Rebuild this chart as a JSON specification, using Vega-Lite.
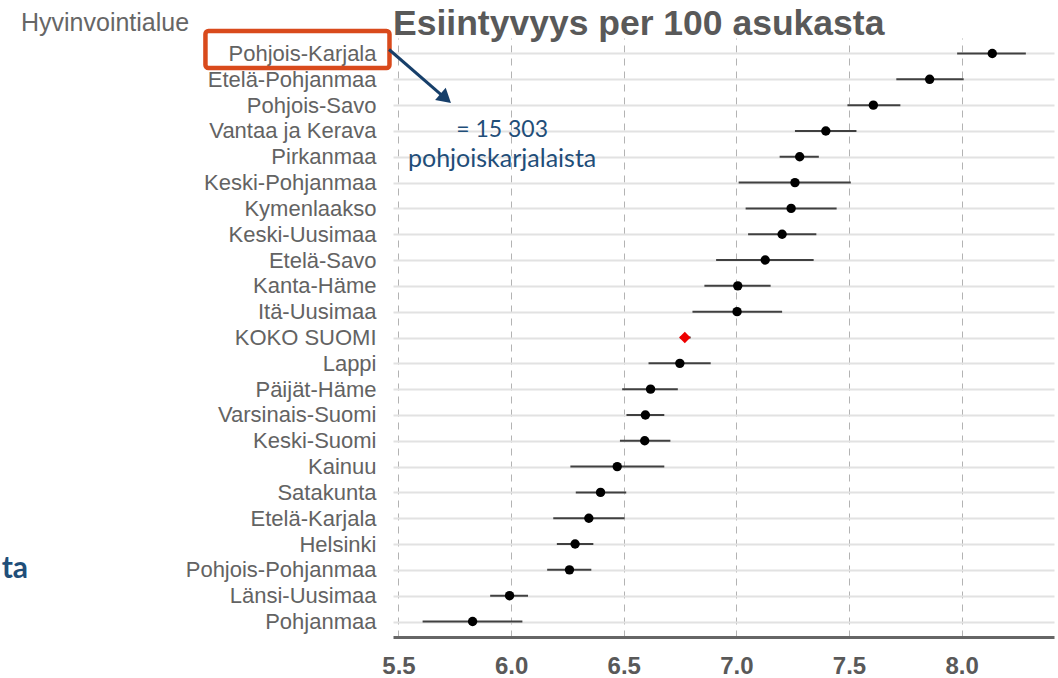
{
  "$schema": "https://vega.github.io/schema/vega-lite/v6.json",
  "width": 661,
  "height": 599,
  "autosize": {"type": "none"},
  "padding": {"left": 393, "top": 38, "right": 4, "bottom": 41},
  "background": "white",
  "config": {
    "view": {"stroke": null},
    "font": "Liberation Sans"
  },
  "title": {
    "text": "Esiintyvyys per 100 asukasta",
    "anchor": "start",
    "frame": "group",
    "font": "Liberation Sans",
    "fontSize": 35.5,
    "fontWeight": "bold",
    "color": "#595959",
    "offset": 4,
    "dy": 36
  },
  "datasets": {
    "main": [
      {"region": "Pohjois-Karjala", "est": 8.136, "lo": 7.98, "hi": 8.285, "type": "alue"},
      {"region": "Etelä-Pohjanmaa", "est": 7.858, "lo": 7.71, "hi": 8.009, "type": "alue"},
      {"region": "Pohjois-Savo", "est": 7.608, "lo": 7.493, "hi": 7.728, "type": "alue"},
      {"region": "Vantaa ja Kerava", "est": 7.397, "lo": 7.26, "hi": 7.533, "type": "alue"},
      {"region": "Pirkanmaa", "est": 7.281, "lo": 7.192, "hi": 7.366, "type": "alue"},
      {"region": "Keski-Pohjanmaa", "est": 7.26, "lo": 7.01, "hi": 7.508, "type": "alue"},
      {"region": "Kymenlaakso", "est": 7.243, "lo": 7.041, "hi": 7.445, "type": "alue"},
      {"region": "Keski-Uusimaa", "est": 7.203, "lo": 7.052, "hi": 7.355, "type": "alue"},
      {"region": "Etelä-Savo", "est": 7.128, "lo": 6.91, "hi": 7.343, "type": "alue"},
      {"region": "Kanta-Häme", "est": 7.006, "lo": 6.858, "hi": 7.152, "type": "alue"},
      {"region": "Itä-Uusimaa", "est": 7.003, "lo": 6.805, "hi": 7.203, "type": "alue"},
      {"region": "KOKO SUOMI", "est": 6.771, "lo": 6.749, "hi": 6.797, "type": "koko"},
      {"region": "Lappi", "est": 6.749, "lo": 6.61, "hi": 6.886, "type": "alue"},
      {"region": "Päijät-Häme", "est": 6.619, "lo": 6.493, "hi": 6.74, "type": "alue"},
      {"region": "Varsinais-Suomi", "est": 6.596, "lo": 6.512, "hi": 6.68, "type": "alue"},
      {"region": "Keski-Suomi", "est": 6.593, "lo": 6.483, "hi": 6.707, "type": "alue"},
      {"region": "Kainuu", "est": 6.471, "lo": 6.263, "hi": 6.68, "type": "alue"},
      {"region": "Satakunta", "est": 6.397, "lo": 6.287, "hi": 6.511, "type": "alue"},
      {"region": "Etelä-Karjala", "est": 6.345, "lo": 6.187, "hi": 6.504, "type": "alue"},
      {"region": "Helsinki", "est": 6.284, "lo": 6.203, "hi": 6.365, "type": "alue"},
      {"region": "Pohjois-Pohjanmaa", "est": 6.259, "lo": 6.16, "hi": 6.356, "type": "alue"},
      {"region": "Länsi-Uusimaa", "est": 5.993, "lo": 5.907, "hi": 6.075, "type": "alue"},
      {"region": "Pohjanmaa", "est": 5.829, "lo": 5.607, "hi": 6.05, "type": "alue"}
    ],
    "box": [{"x1": 4.643, "x2": 5.46, "region": "Pohjois-Karjala"}],
    "arrow": [{"x1": 5.458, "x2": 5.7095, "r1": "Pohjois-Karjala", "r2": "Pohjois-Savo"}],
    "head": [{"x": 5.7095, "region": "Pohjois-Savo"}],
    "note1": [{"x": 5.96, "region": "Vantaa ja Kerava", "label": "= 15 303"}],
    "note2": [{"x": 5.96, "region": "Pirkanmaa", "label": "pohjoiskarjalaista"}],
    "cut": [{"x": 3.8555, "region": "Pohjois-Pohjanmaa", "label": "ta"}]
  },
  "layer": [
    {
      "data": {"name": "main"},
      "mark": {"type": "rule", "color": "#404040", "strokeWidth": 2},
      "encoding": {
        "y": {
          "field": "region",
          "type": "nominal",
          "sort": null,
          "scale": {
            "type": "point",
            "padding": 0.6,
            "domain": ["Pohjois-Karjala", "Etelä-Pohjanmaa", "Pohjois-Savo", "Vantaa ja Kerava", "Pirkanmaa", "Keski-Pohjanmaa", "Kymenlaakso", "Keski-Uusimaa", "Etelä-Savo", "Kanta-Häme", "Itä-Uusimaa", "KOKO SUOMI", "Lappi", "Päijät-Häme", "Varsinais-Suomi", "Keski-Suomi", "Kainuu", "Satakunta", "Etelä-Karjala", "Helsinki", "Pohjois-Pohjanmaa", "Länsi-Uusimaa", "Pohjanmaa"]
          },
          "axis": {
            "title": "Hyvinvointialue",
            "titleAngle": 0,
            "titleAlign": "left",
            "titleBaseline": "middle",
            "titleX": -372.5,
            "titleY": -16,
            "titleFont": "Liberation Sans",
            "titleFontSize": 25,
            "titleFontWeight": "normal",
            "titleColor": "#666666",
            "labelFont": "Liberation Sans",
            "labelFontSize": 22,
            "labelColor": "#636363",
            "labelPadding": 17,
            "labelLimit": 400,
            "ticks": false,
            "domain": false,
            "grid": true,
            "gridColor": "#e2e2e2",
            "gridWidth": 1.8
          }
        },
        "x": {
          "field": "lo",
          "type": "quantitative",
          "scale": {"domain": [5.4756, 8.41], "nice": false, "zero": false},
          "axis": {
            "title": null,
            "values": [5.5, 6, 6.5, 7, 7.5, 8],
            "format": ".1f",
            "labelFont": "Liberation Sans",
            "labelFontSize": 24,
            "labelFontWeight": "bold",
            "labelColor": "#595959",
            "labelPadding": 17,
            "ticks": false,
            "domain": true,
            "domainColor": "#666666",
            "domainWidth": 3,
            "grid": true,
            "gridColor": "#b3b3b3",
            "gridWidth": 1,
            "gridDash": [7, 6]
          }
        },
        "x2": {"field": "hi"}
      }
    },
    {
      "data": {"name": "main"},
      "mark": {"type": "point", "filled": true, "opacity": 1},
      "encoding": {
        "y": {"field": "region", "type": "nominal", "sort": null},
        "x": {"field": "est", "type": "quantitative"},
        "color": {"field": "type", "type": "nominal", "scale": {"domain": ["alue", "koko"], "range": ["#000000", "#ee0000"]}, "legend": null},
        "shape": {"field": "type", "type": "nominal", "scale": {"domain": ["alue", "koko"], "range": ["circle", "diamond"]}, "legend": null},
        "size": {"field": "type", "type": "nominal", "scale": {"domain": ["alue", "koko"], "range": [88, 130]}, "legend": null}
      }
    },
    {
      "data": {"name": "box"},
      "mark": {"type": "rect", "fill": null, "fillOpacity": 0, "stroke": "#D94A1C", "strokeWidth": 4.5, "height": 37, "yOffset": -4, "cornerRadius": 3},
      "encoding": {
        "x": {"field": "x1", "type": "quantitative"},
        "x2": {"field": "x2"},
        "y": {"field": "region", "type": "nominal", "sort": null}
      }
    },
    {
      "data": {"name": "arrow"},
      "mark": {"type": "rule", "color": "#173F6A", "strokeWidth": 3, "yOffset": -4, "y2Offset": -6.6},
      "encoding": {
        "x": {"field": "x1", "type": "quantitative"},
        "x2": {"field": "x2"},
        "y": {"field": "r1", "type": "nominal", "sort": null},
        "y2": {"field": "r2"}
      }
    },
    {
      "data": {"name": "head"},
      "mark": {"type": "point", "shape": "triangle-up", "filled": true, "opacity": 1, "color": "#173F6A", "size": 260, "angle": 131, "yOffset": -6.6},
      "encoding": {
        "x": {"field": "x", "type": "quantitative"},
        "y": {"field": "region", "type": "nominal", "sort": null}
      }
    },
    {
      "data": {"name": "note1"},
      "mark": {"type": "text", "font": "Lato", "fontSize": 23, "color": "#1F4E79", "align": "center", "baseline": "alphabetic", "dy": 6},
      "encoding": {
        "x": {"field": "x", "type": "quantitative"},
        "y": {"field": "region", "type": "nominal", "sort": null},
        "text": {"field": "label"}
      }
    },
    {
      "data": {"name": "note2"},
      "mark": {"type": "text", "font": "Lato", "fontSize": 25, "color": "#1F4E79", "align": "center", "baseline": "alphabetic", "dy": 10},
      "encoding": {
        "x": {"field": "x", "type": "quantitative"},
        "y": {"field": "region", "type": "nominal", "sort": null},
        "text": {"field": "label"}
      }
    },
    {
      "data": {"name": "cut"},
      "mark": {"type": "text", "font": "Lato", "fontSize": 30, "fontWeight": "bold", "color": "#1F4E79", "align": "right", "baseline": "alphabetic", "dy": 8},
      "encoding": {
        "x": {"field": "x", "type": "quantitative"},
        "y": {"field": "region", "type": "nominal", "sort": null},
        "text": {"field": "label"}
      }
    }
  ]
}
